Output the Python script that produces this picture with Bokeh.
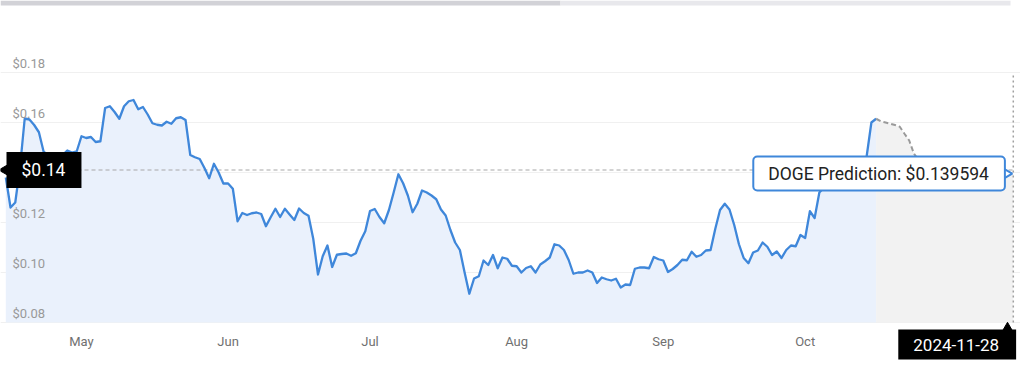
import math
import pandas as pd
from bokeh.plotting import figure
from bokeh.models import Range1d, Label, Grid, FixedTicker
from bokeh.core.properties import value
from bokeh.embed import file_html
from bokeh.resources import INLINE

# ---------------- data ----------------
start_date = "2024-04-29"
price = [
    0.138, 0.126, 0.128, 0.142, 0.1616, 0.1612, 0.159, 0.1561, 0.1483, 0.1468,
    0.1475, 0.146, 0.147, 0.1488, 0.148, 0.1485, 0.1545, 0.1538, 0.1542, 0.1522,
    0.1525, 0.1658, 0.1665, 0.1642, 0.1615, 0.1665, 0.1685, 0.169, 0.1653, 0.1662,
    0.1632, 0.1597, 0.1591, 0.1588, 0.1603, 0.1595, 0.1617, 0.1621, 0.161, 0.147,
    0.1461, 0.1454, 0.1418, 0.1377, 0.1435, 0.140, 0.1356, 0.1356, 0.1335, 0.1205,
    0.1238, 0.123, 0.1237, 0.124, 0.1234, 0.1185, 0.1221, 0.1255, 0.1222, 0.1255,
    0.1232, 0.121, 0.1256, 0.1238, 0.1227, 0.1135, 0.0992, 0.1065, 0.1108, 0.1022,
    0.1071, 0.1074, 0.1076, 0.1067, 0.1077, 0.1127, 0.1165, 0.1246, 0.1254, 0.1222,
    0.1197, 0.125, 0.132, 0.1393, 0.1357, 0.1308, 0.1241, 0.1275, 0.1328, 0.132,
    0.1308, 0.1293, 0.1252, 0.1228, 0.117, 0.112, 0.109, 0.100, 0.0915, 0.0976,
    0.0985, 0.1048, 0.103, 0.107, 0.1017, 0.106, 0.1055, 0.1027, 0.1025, 0.100,
    0.1018, 0.1025, 0.100, 0.1032, 0.1045, 0.106, 0.1113, 0.1108, 0.109, 0.105,
    0.0995, 0.100, 0.100, 0.1008, 0.100, 0.0958, 0.098, 0.0973, 0.0968, 0.0975,
    0.094, 0.0952, 0.095, 0.1015, 0.102, 0.102, 0.1017, 0.1062, 0.1053, 0.1048,
    0.1002, 0.1014, 0.103, 0.1051, 0.1049, 0.1083, 0.1063, 0.107, 0.1088, 0.109,
    0.1175, 0.125, 0.1275, 0.1252, 0.119, 0.1113, 0.1058, 0.1037, 0.108, 0.1088,
    0.112, 0.1103, 0.107, 0.1084, 0.1058, 0.109, 0.1108, 0.1105, 0.115, 0.1138,
    0.1245, 0.1218, 0.132, 0.134, 0.136, 0.139, 0.137, 0.139, 0.141, 0.140,
    0.142, 0.144, 0.1465, 0.160, 0.1615,
]

pred_start = "2024-10-30"
pred_values = [
    0.1615, 0.1605, 0.1600, 0.1595, 0.1590, 0.1583, 0.1555, 0.1528, 0.1475, 0.1450,
    0.1440, 0.1432, 0.1428, 0.1425, 0.1420, 0.1418, 0.1415, 0.1412, 0.1410, 0.1408,
    0.1405, 0.1404, 0.1402, 0.1401, 0.1400, 0.1399, 0.1398, 0.1397, 0.1396, 0.139594,
]

y_ticks = [0.08, 0.10, 0.12, 0.14, 0.16, 0.18]
y_tick_labels = ["$0.08", "$0.10", "$0.12", "$0.14", "$0.16", "$0.18"]
month_ticks = ["2024-05-15", "2024-06-15", "2024-07-15", "2024-08-15", "2024-09-15", "2024-10-15"]
month_labels = ["May", "Jun", "Jul", "Aug", "Sep", "Oct"]

crosshair_value = 0.141
crosshair_label = "$0.14"
prediction_label = "DOGE Prediction: $0.139594"
prediction_date_label = "2024-11-28"

# ---------------- layout helpers ----------------
W, H = 1020, 362
origin = pd.Timestamp(start_date)
DAY_PX = 4.73            # pixels per day
X0_PX = 5.3              # pixel of the first date
PX_PER_UNIT = 2500.0     # pixels per dollar
Y008_PX = 322.0          # pixel row of $0.08


def px_to_x(px):
    return origin + pd.Timedelta(days=(px - X0_PX) / DAY_PX)


def py_to_y(py):
    return 0.08 + (Y008_PX - py) / PX_PER_UNIT


def ms(ts):
    return ts.timestamp() * 1000.0


dates = pd.date_range(start_date, periods=len(price), freq="D")
pred_dates = pd.date_range(pred_start, periods=len(pred_values), freq="D")
month_dates = pd.to_datetime(month_ticks)
pred_end = pred_dates[-1]
x_start = px_to_x(0)

FONT_NAME = "Roboto"
FONT = value(FONT_NAME)
BLUE = "#3f87da"
base = y_ticks[0]
top = y_ticks[-1]

p = figure(
    width=W, height=H,
    x_axis_type="datetime",
    x_range=Range1d(start=px_to_x(0), end=px_to_x(W)),
    y_range=Range1d(start=py_to_y(H), end=py_to_y(0)),
    x_axis_location=None, y_axis_location=None,
    output_backend="svg", toolbar_location=None,
    min_border=0, outline_line_color=None,
    background_fill_color="white", border_fill_color="white",
)
p.grid.visible = False
p.add_layout(Grid(dimension=1, ticker=FixedTicker(ticks=y_ticks),
                  grid_line_color="#f0f0f0", grid_line_width=1))

# top scroll bar decoration
p.quad(left=[px_to_x(0), px_to_x(560)], right=[px_to_x(560), px_to_x(1010)],
       bottom=[py_to_y(5)] * 2, top=[py_to_y(0)] * 2,
       fill_color=["#d2d2d7", "#e8e8ec"], line_color=None)

# areas
p.varea(x=dates, y1=base, y2=price, fill_color="#eaf1fc")
p.varea(x=pred_dates, y1=base, y2=pred_values, fill_color="#f2f2f2")

# crosshair lines
p.segment(x0=[x_start], y0=[crosshair_value], x1=[pred_end], y1=[crosshair_value],
          line_color="#a8a8a8", line_width=1.2, line_dash="4 3")
p.segment(x0=[pred_end], y0=[base], x1=[pred_end], y1=[top],
          line_color="#a0a0a0", line_width=1.5, line_dash="2 3")

# lines
p.line(x=dates, y=price, line_color=BLUE, line_width=2.3, line_join="round")
p.line(x=pred_dates, y=pred_values, line_color="#9a9a9a", line_width=2, line_dash="5 3")

# y tick labels (inside plot, above grid lines)
p.text(x=[x_start] * len(y_ticks), y=y_ticks, text=y_tick_labels,
       x_offset=12, y_offset=-9, text_align="left", text_baseline="alphabetic",
       text_font=FONT, text_font_size="13px", text_color="#999999")

# month labels
month_label_y = py_to_y(341)
p.text(x=month_dates, y=[month_label_y] * len(month_dates), text=month_labels,
       text_align="center", text_baseline="middle",
       text_font=FONT, text_font_size="13px", text_color="#707070")

# pointer arrows
p.scatter(x=[px_to_x(4)], y=[crosshair_value], marker="triangle", angle=math.pi / 2,
          size=10, fill_color="black", line_color="black")
p.scatter(x=[px_to_x(1006)], y=[pred_values[-1]], marker="triangle", angle=-math.pi / 2,
          size=10, fill_color="white", line_color=BLUE, line_width=2)
p.scatter(x=[px_to_x(1007)], y=[py_to_y(327)], marker="triangle", angle=0,
          size=9, fill_color="black", line_color="black")

# crosshair value label
p.add_layout(Label(x=ms(x_start), y=crosshair_value, x_offset=6, text=crosshair_label,
                   text_align="left", text_baseline="middle",
                   text_font=FONT_NAME, text_font_size="17.5px", text_color="white",
                   background_fill_color="black",
                   padding=dict(left=15, right=16, top=8, bottom=8)))

# tooltip
p.add_layout(Label(x=ms(pred_end), y=pred_values[-1], x_offset=-260, text=prediction_label,
                   text_align="left", text_baseline="middle",
                   text_font=FONT_NAME, text_font_size="17.5px", text_color="#222222",
                   background_fill_color="white", border_line_color=BLUE,
                   border_line_width=2, border_radius=4,
                   padding=dict(left=15, right=16, top=7, bottom=7)))

# date label
p.add_layout(Label(x=ms(pred_end), y=py_to_y(344), x_offset=-115, text=prediction_date_label,
                   text_align="left", text_baseline="middle",
                   text_font=FONT_NAME, text_font_size="17px", text_color="white",
                   background_fill_color="black",
                   padding=dict(left=15, right=17, top=9, bottom=9)))

open("out.html", "w").write(file_html(p, INLINE))
